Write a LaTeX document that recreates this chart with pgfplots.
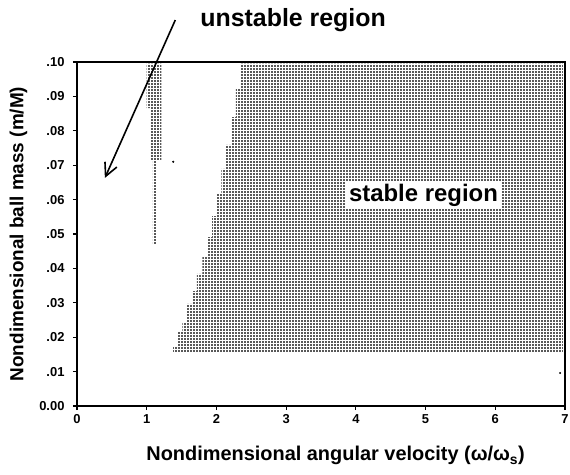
\documentclass[border=0pt]{standalone}
\usepackage{fontspec}
\setmainfont{Liberation Sans}
\usepackage{pgfplots}
\pgfplotsset{compat=1.18}
\usetikzlibrary{patterns.meta,arrows.meta}
\tikzdeclarepattern{name=vdots,type=uncolored,bounding box={(0,0) and (2.5bp,3bp)},tile size={(2.5bp,3bp)},code={\fill (0.3bp,0.3bp) rectangle (1.9bp,2.6bp);}}
\begin{document}
\begin{tikzpicture}
\begin{axis}[
  width=488bp, height=344bp, scale only axis,
  xmin=0, xmax=7, ymin=0, ymax=0.1,
  xtick={0,1,2,3,4,5,6,7},
  ytick={0,0.01,0.02,0.03,0.04,0.05,0.06,0.07,0.08,0.09,0.1},
  yticklabels={0.00,.01,.02,.03,.04,.05,.06,.07,.08,.09,.10},
  /pgf/number format/assume math mode=true,
  axis line style={line width=1.6bp},
  tick style={line width=1.2bp,black},
  major tick length=4bp,
  tick align=outside, tick pos=left,
  ticklabel style={font=\bfseries\fontsize{13}{15}\selectfont},
  yticklabel style={xshift=-5bp},
  xticklabel style={yshift=-1bp},
  xlabel={Nondimensional angular velocity (ω/ω\textsubscript{s})},
  ylabel={Nondimensional ball mass (m/M)},
  xlabel style={font=\bfseries\fontsize{20}{24}\selectfont,at={(axis description cs:0.53,-0.145)},anchor=center},
  ylabel style={font=\bfseries\fontsize{19}{23}\selectfont,at={(axis description cs:-0.12,0.5)},anchor=center,rotate=0},
  clip=false,
]
% stable region
\addplot[draw=none, pattern=vdots, pattern color=black] coordinates {
(1.38,0.0155) (6.97,0.0155) (6.97,0.0995) (2.35,0.0995)
(2.35,0.0922) (2.28,0.0922) (2.28,0.0840) (2.21,0.0840)
(2.21,0.0759) (2.14,0.0759) (2.14,0.0689) (2.07,0.0689)
(2.07,0.0619) (2.01,0.0619) (2.01,0.0552) (1.94,0.0552)
(1.94,0.0491) (1.87,0.0491) (1.87,0.0433) (1.80,0.0433)
(1.80,0.0384) (1.72,0.0384) (1.72,0.0334) (1.66,0.0334)
(1.66,0.0297) (1.58,0.0297) (1.58,0.0244) (1.51,0.0244)
(1.51,0.0215) (1.44,0.0215) (1.44,0.0174) (1.38,0.0174)
} -- cycle;
% unstable strip
\addplot[draw=none, pattern=vdots, pattern color=black] coordinates {
(1.00,0.0995) (1.00,0.0866) (1.05,0.0866) (1.05,0.0715)
(1.09,0.0715) (1.09,0.0470) (1.13,0.0470) (1.13,0.0715)
(1.21,0.0715) (1.21,0.0995)
} -- cycle;
\addplot[only marks, mark=*, mark size=0.8bp, black] coordinates {(6.93,0.0096) (1.38,0.0710)};
\addplot[black, line width=1.6bp, -{Straight Barb[length=13bp,width=13bp,line width=1.6bp]}] coordinates {(1.41,0.1122) (0.40,0.0663)};
\node[font=\bfseries\fontsize{25}{28}\selectfont] at (axis cs:3.10,0.1122) {unstable region};
\node[font=\bfseries\fontsize{24}{27}\selectfont, fill=white, inner sep=3bp] at (axis cs:4.97,0.0613) {stable region};
\coordinate (bl) at (rel axis cs:0,0);
\coordinate (tr) at (rel axis cs:1,1);
\end{axis}
\pgfresetboundingbox
\path[use as bounding box] ([xshift=-77bp,yshift=-69bp]bl) rectangle ([xshift=5bp,yshift=62bp]tr);
\end{tikzpicture}
\end{document}
